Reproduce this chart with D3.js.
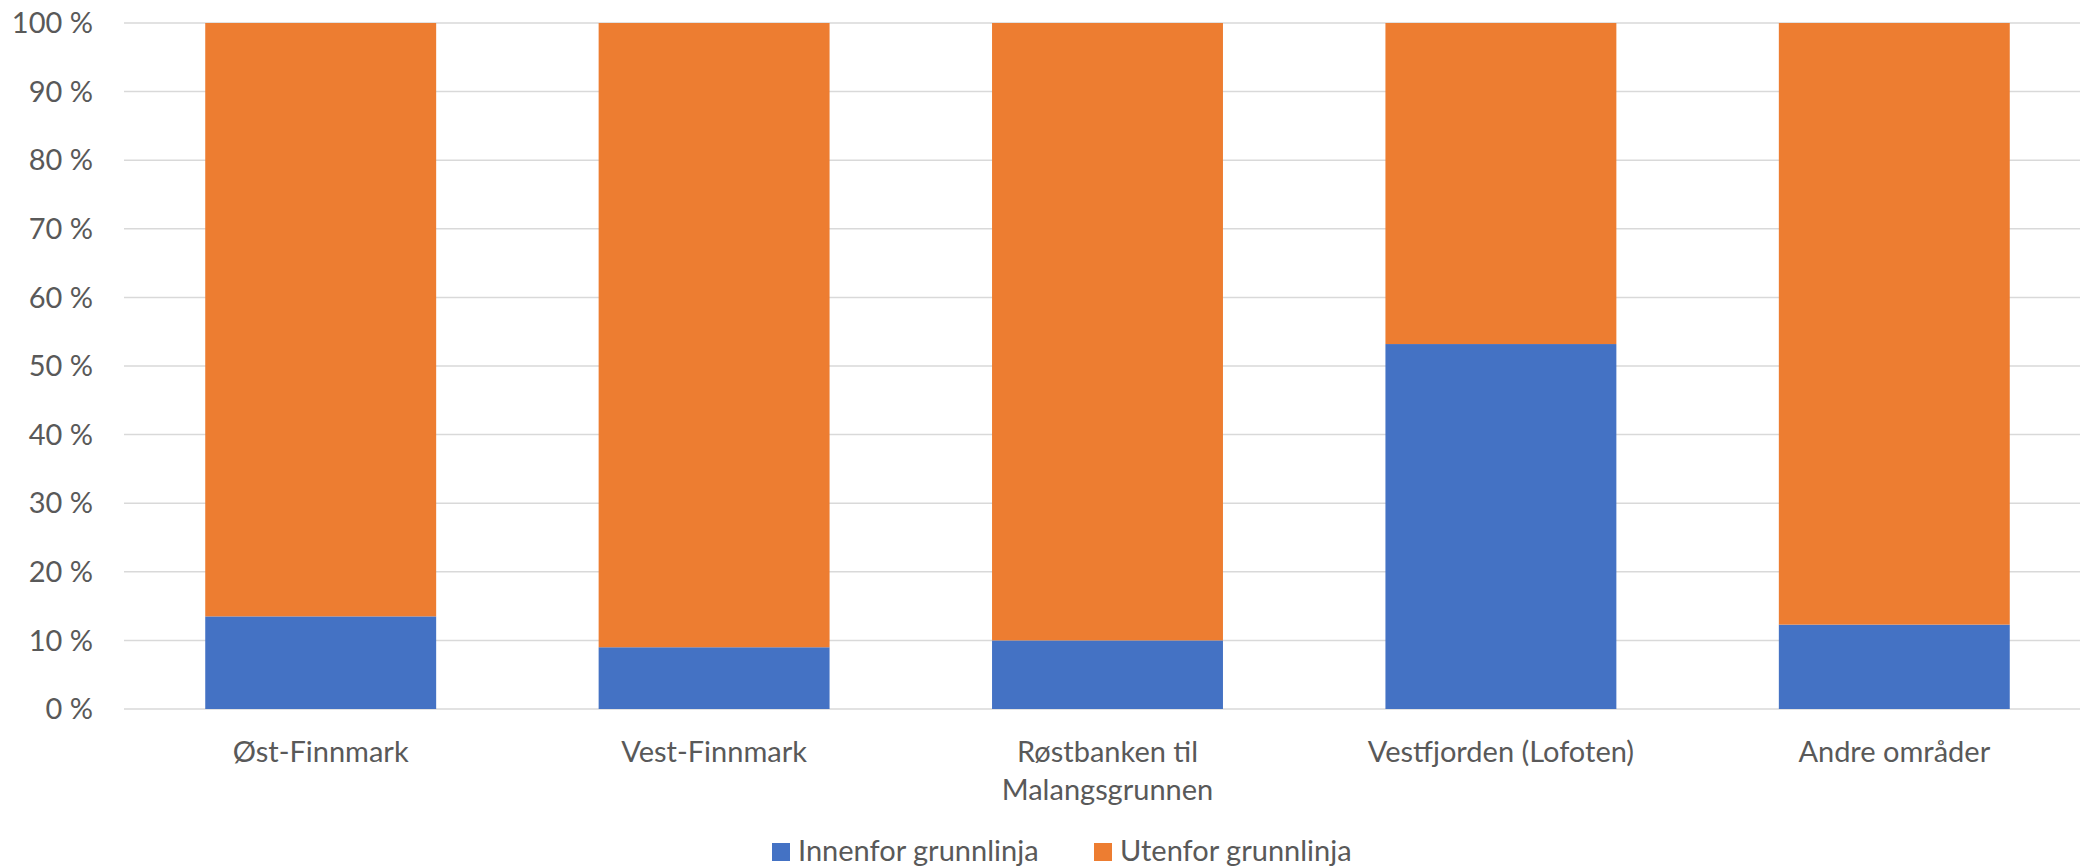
<!DOCTYPE html>
<html><head><meta charset="utf-8">
<script src="https://cdn.jsdelivr.net/npm/d3@7"></script>
<style>html,body{margin:0;padding:0;background:#fff;overflow:hidden}</style>
</head><body>
<svg id="chart" width="2080" height="866"></svg>
<script>
const categories = ["Øst-Finnmark", "Vest-Finnmark", "Røstbanken til\nMalangsgrunnen", "Vestfjorden (Lofoten)", "Andre områder"];
const innenfor = [13.5, 9.0, 10.0, 53.2, 12.3];
const utenfor = [86.5, 91.0, 90.0, 46.8, 87.7];
const seriesNames = ["Innenfor grunnlinja", "Utenfor grunnlinja"];
const colors = ["#4472C4", "#ED7D31"];
const yTicks = [0, 10, 20, 30, 40, 50, 60, 70, 80, 90, 100];

(function () {
const svg = d3.select("#chart");
const font = "Lato, 'Open Sans', sans-serif";
const fs = 29;
const pLeft = 124, pRight = 2091, pTop = 23, pBottom = 709;

const x = d3.scaleBand().domain(categories).range([pLeft, pRight]).paddingInner(0.413).paddingOuter(0.2065);
const y = d3.scaleLinear().domain([0, 100]).range([pBottom, pTop]);

svg.append("g").selectAll("line").data(yTicks).join("line")
  .attr("x1", pLeft).attr("x2", pRight)
  .attr("y1", d => y(d)).attr("y2", d => y(d))
  .attr("stroke", "#d9d9d9").attr("stroke-width", 1.5);

svg.append("g").selectAll("text").data(yTicks).join("text")
  .attr("x", 93).attr("y", d => y(d)).attr("dy", "0.35em")
  .attr("text-anchor", "end").attr("font-family", font).attr("font-size", fs)
  .attr("fill", "#595959").text(d => d + " %");

const rows = categories.map((c, i) => ({cat: c, a: innenfor[i], b: utenfor[i]}));
const stack = d3.stack().keys(["a", "b"])(rows);
svg.append("g").selectAll("g").data(stack).join("g")
  .attr("fill", (d, i) => colors[i])
  .selectAll("rect").data(d => d).join("rect")
  .attr("x", d => x(d.data.cat)).attr("width", x.bandwidth())
  .attr("y", d => y(d[1])).attr("height", d => y(d[0]) - y(d[1]));

const xl = svg.append("g").selectAll("text").data(categories).join("text")
  .attr("x", d => x(d) + x.bandwidth() / 2).attr("y", 752)
  .attr("text-anchor", "middle").attr("font-family", font).attr("font-size", fs)
  .attr("fill", "#595959");
xl.each(function (d) {
  const lines = d.split("\n");
  d3.select(this).selectAll("tspan").data(lines).join("tspan")
    .attr("x", x(d) + x.bandwidth() / 2)
    .attr("dy", (l, i) => i === 0 ? "0.35em" : 38)
    .text(l => l);
});

const legendX = [772, 1094];
const lg = svg.append("g").selectAll("g").data(seriesNames).join("g")
  .attr("transform", (d, i) => `translate(${legendX[i]},0)`);
lg.append("rect").attr("x", 0).attr("y", 843).attr("width", 18).attr("height", 18)
  .attr("fill", (d, i) => colors[i]);
lg.append("text").attr("x", 26).attr("y", 861)
  .attr("font-family", font).attr("font-size", fs).attr("fill", "#595959").text(d => d);
})();
</script>
</body></html>
